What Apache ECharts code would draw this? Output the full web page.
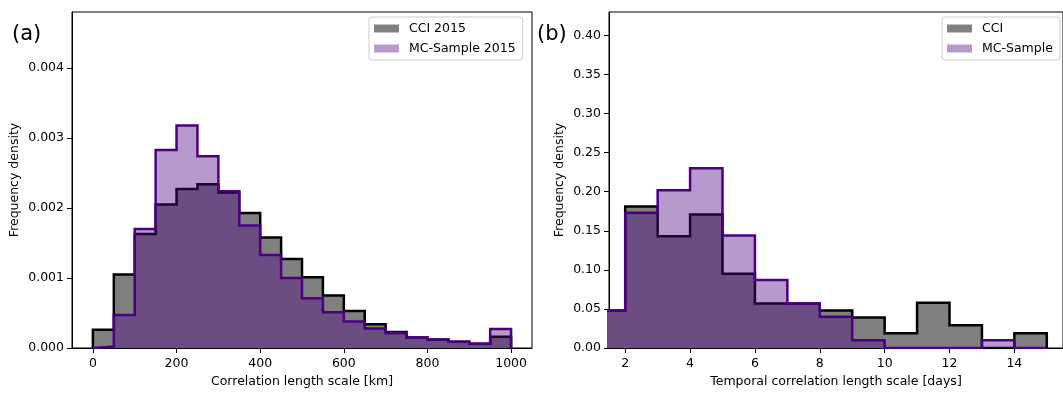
<!DOCTYPE html>
<html>
<head>
<meta charset="utf-8">
<script src="https://cdn.jsdelivr.net/npm/echarts@6/dist/echarts.min.js"></script>
<style>
  html, body { margin: 0; padding: 0; background: #fff; }
  #main { width: 1063px; height: 393px; }
</style>
</head>
<body>
<div id="main"></div>
<script>
// 空间相关长度 (a)
var distEdges = [0, 50, 100, 150, 200, 250, 300, 350, 400, 450, 500, 550, 600, 650, 700, 750, 800, 850, 900, 950, 1000];
var distCci = [0.00026, 0.00105, 0.00163, 0.00205, 0.00227, 0.00234, 0.00222, 0.00193, 0.00158, 0.00127,
               0.00101, 0.00075, 0.00053, 0.00034, 0.00023, 0.00015, 0.00012, 0.00009, 0.00006, 0.00016];
var distMc = [0.00002, 0.00047, 0.00170, 0.00283, 0.00318, 0.00274, 0.00224, 0.00175, 0.00133, 0.00100,
              0.00071, 0.00051, 0.00038, 0.00028, 0.00021, 0.00015, 0.00012, 0.00009, 0.00006, 0.00027];
var distTicks = [0, 200, 400, 600, 800, 1000];
var distYTicks = [0, 0.001, 0.002, 0.003, 0.004];

// 时间相关长度 (b)
var dayEdges = [1, 2, 3, 4, 5, 6, 7, 8, 9, 10, 11, 12, 13, 14, 15];
var dayCci = [0.048, 0.181, 0.143, 0.171, 0.095, 0.057, 0.057, 0.048, 0.039, 0.019, 0.058, 0.029, 0, 0.019];
var dayMc = [0.048, 0.173, 0.202, 0.230, 0.144, 0.087, 0.057, 0.040, 0.010, 0, 0, 0, 0.010, 0];
var dayTicks = [2, 4, 6, 8, 10, 12, 14];
var dayYTicks = [0, 0.05, 0.10, 0.15, 0.20, 0.25, 0.30, 0.35, 0.40];

var FONT = 'DejaVu Sans';
var GRAY = '#808080';
var INDIGO = '#4b0082';

// 直方图的阶梯轮廓
function stepPoints (edges, heights) {
    var pts = [[edges[0], 0]];
    for (var i = 0; i < heights.length; i++) {
        pts.push([edges[i], heights[i]]);
        pts.push([edges[i + 1], heights[i]]);
    }
    pts.push([edges[heights.length], 0]);
    return pts;
}

function histSeries (name, idx, edges, heights, lineColor, fillColor, fillOpacity, z) {
    return {
        name: name,
        type: 'line',
        xAxisIndex: idx,
        yAxisIndex: idx,
        data: stepPoints(edges, heights),
        showSymbol: false,
        symbol: 'none',
        clip: true,
        silent: true,
        z: z,
        itemStyle: { color: fillColor },
        lineStyle: { color: lineColor, width: 2.5, join: 'miter' },
        areaStyle: { color: fillColor, opacity: fillOpacity, origin: 'start' }
    };
}

function xAxis (idx, min, max, ticks, name) {
    return {
        type: 'value',
        gridIndex: idx,
        min: min,
        max: max,
        name: name,
        nameLocation: 'middle',
        nameGap: 27,
        nameTextStyle: { fontFamily: FONT, fontSize: 12.5, color: '#000' },
        axisLine: { show: true, onZero: false, lineStyle: { color: '#000', width: 1 } },
        axisTick: { show: true, length: 5, customValues: ticks, lineStyle: { color: '#000' } },
        axisLabel: {
            customValues: ticks, margin: 9, fontFamily: FONT, fontSize: 12.5, color: '#000',
            formatter: function (v) { return String(v); }
        },
        splitLine: { show: false }
    };
}

function yAxis (idx, max, ticks, digits, gap) {
    return {
        type: 'value',
        gridIndex: idx,
        min: 0,
        max: max,
        name: 'Frequency density',
        nameLocation: 'middle',
        nameGap: gap,
        nameTextStyle: { fontFamily: FONT, fontSize: 12.5, color: '#000' },
        axisLine: { show: true, onZero: false, lineStyle: { color: '#000', width: 1 } },
        axisTick: { show: true, length: 5, customValues: ticks, lineStyle: { color: '#000' } },
        axisLabel: {
            customValues: ticks, margin: 8, fontFamily: FONT, fontSize: 12.5, color: '#000',
            formatter: function (v) { return v.toFixed(digits); }
        },
        splitLine: { show: false }
    };
}

function legend (left, names, colors) {
    return {
        left: left,
        top: 17,
        orient: 'vertical',
        icon: 'rect',
        itemWidth: 25,
        itemHeight: 8,
        itemGap: 7,
        padding: [5, 7, 5, 5],
        borderColor: '#cccccc',
        borderWidth: 1,
        borderRadius: 3,
        backgroundColor: 'rgba(255,255,255,0.8)',
        selectedMode: false,
        textStyle: { fontFamily: FONT, fontSize: 12.5, color: '#000', padding: [0, 0, 0, 5] },
        data: names.map(function (n, i) {
            return { name: n, itemStyle: { color: colors[i], borderWidth: 0 } };
        })
    };
}

var myChart = echarts.init(document.getElementById('main'), null, { renderer: 'canvas' });

var option = {
    animation: false,
    backgroundColor: '#fff',
    textStyle: { fontFamily: FONT },
    title: [
        { text: '(a)', left: 12, top: 24, padding: 0, textStyle: { fontFamily: FONT, fontSize: 21, fontWeight: 'normal', color: '#000' } },
        { text: '(b)', left: 537, top: 24, padding: 0, textStyle: { fontFamily: FONT, fontSize: 21, fontWeight: 'normal', color: '#000' } }
    ],
    grid: [
        { left: 72, top: 12, width: 460, height: 342, show: true, borderColor: '#000', borderWidth: 1, backgroundColor: 'transparent' },
        { left: 609, top: 12, width: 458, height: 342, show: true, borderColor: '#000', borderWidth: 1, backgroundColor: 'transparent' }
    ],
    xAxis: [
        xAxis(0, -50, 1050, distTicks, 'Correlation length scale [km]'),
        xAxis(1, 1.5, 15.5, dayTicks, 'Temporal correlation length scale [days]')
    ],
    yAxis: [
        yAxis(0, 0.0048, distYTicks, 3, 51),
        yAxis(1, 0.43, dayYTicks, 2, 43)
    ],
    legend: [
        legend(369, ['CCI 2015', 'MC-Sample 2015'], [GRAY, '#b799cd']),
        legend(942, ['CCI', 'MC-Sample'], [GRAY, '#b799cd'])
    ],
    series: [
        histSeries('CCI 2015', 0, distEdges, distCci, '#000', GRAY, 1, 2),
        histSeries('MC-Sample 2015', 0, distEdges, distMc, INDIGO, INDIGO, 0.4, 3),
        histSeries('CCI', 1, dayEdges, dayCci, '#000', GRAY, 1, 2),
        histSeries('MC-Sample', 1, dayEdges, dayMc, INDIGO, INDIGO, 0.4, 3)
    ]
};

myChart.setOption(option);
</script>
</body>
</html>
